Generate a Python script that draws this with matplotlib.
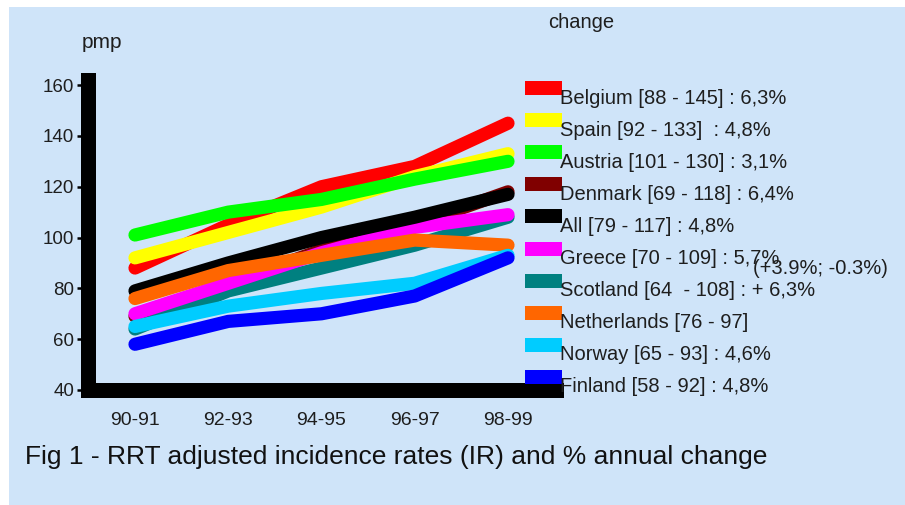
import matplotlib
matplotlib.use('Agg')
import matplotlib.pyplot as plt
from matplotlib.patches import Rectangle

plt.rcParams['font.family'] = ['Liberation Sans', 'DejaVu Sans']

# incidence rates, pmp
periods = ['90-91', '92-93', '94-95', '96-97', '98-99']
belgium = [88, 105, 120, 128, 145]
spain = [92, 102, 112, 124, 133]
austria = [101, 110, 115, 123, 130]
denmark = [69, 82, 95, 105, 118]
all_countries = [79, 90, 100, 108, 117]
greece = [70, 82, 94, 104, 109]
scotland = [64, 79, 88, 97, 108]
netherlands = [76, 87, 93, 99, 97]
norway = [65, 73, 78, 82, 93]
finland = [58, 67, 70, 77, 92]

legend_labels = ['Belgium [88 - 145] : 6,3%', 'Spain [92 - 133]  : 4,8%',
                 'Austria [101 - 130] : 3,1%', 'Denmark [69 - 118] : 6,4%',
                 'All [79 - 117] : 4,8%', 'Greece [70 - 109] : 5,7%',
                 'Scotland [64  - 108] : + 6,3%', 'Netherlands [76 - 97]',
                 'Norway [65 - 93] : 4,6%', 'Finland [58 - 92] : 4,8%']
colors = ['#ff0000', '#ffff00', '#00ff00', '#800000', '#000000',
          '#ff00ff', '#008080', '#ff6600', '#00ccff', '#0000ff']
series = [belgium, spain, austria, denmark, all_countries,
          greece, scotland, netherlands, norway, finland]
# drawing order (bottom to top)
layer = [2, 3, 4, 1, 7, 6, 5, 8, 9, 10]

W, H = 905, 505
BG = '#cfe4f9'
TXT = '#1e1e1e'


def fx(x):
    return x / W


def fy(y):
    return 1 - y / H


fig = plt.figure(figsize=(9.05, 5.05), dpi=100, facecolor='white')
fig.patches.append(Rectangle((fx(9), 0), 1 - fx(9), fy(7), transform=fig.transFigure,
                             facecolor=BG, edgecolor='none', zorder=-10))

ax = fig.add_axes([fx(88), fy(390), fx(556) - fx(88), fy(80) - fy(390)])
ax.set_facecolor('none')

x = list(range(len(periods)))
for vals, c, z in zip(series, colors, layer):
    ax.plot(x, vals, color=c, lw=9.5, solid_capstyle='round',
            solid_joinstyle='round', zorder=z)

ax.set_xlim((88 - 135) / 93.25, (556 - 135) / 93.25)
ax.set_ylim(40, 162)
ax.set_xticks(x)
ax.set_xticklabels(periods)
ax.set_yticks(range(40, 161, 20))

for side in ['top', 'right']:
    ax.spines[side].set_visible(False)
for side in ['left', 'bottom']:
    ax.spines[side].set_linewidth(10.8)
    ax.spines[side].set_capstyle('projecting')
    ax.spines[side].set_zorder(20)

ax.tick_params(axis='y', length=8, width=1.8, pad=2, labelsize=13.5, labelcolor=TXT)
ax.tick_params(axis='x', length=0, pad=16, labelsize=14, labelcolor=TXT)

# legend with range and annual change
for i, (lab, c) in enumerate(zip(legend_labels, colors)):
    yc = 88 + i * 32.1
    fig.patches.append(Rectangle((fx(525), fy(yc + 7)), fx(562) - fx(525), 14 / H,
                                 transform=fig.transFigure, facecolor=c,
                                 edgecolor='none', zorder=5))
    fig.text(fx(560), fy(yc + 10), lab, fontsize=14.5, va='center', ha='left',
             color=TXT, zorder=6)

fig.text(fx(753), fy(268), '(+3.9%; -0.3%)', fontsize=14.5, va='center', ha='left',
         color=TXT)
fig.text(fx(548), fy(23), 'change', fontsize=14.5, va='center', ha='left',
         color=TXT)
fig.text(fx(82), fy(43), 'pmp', fontsize=15, va='center', ha='left',
         color=TXT)
fig.text(fx(25), fy(457), 'Fig 1 - RRT adjusted incidence rates (IR) and % annual change',
         fontsize=19, va='center', ha='left', color='#111111')

fig.savefig('out.png', dpi=100, facecolor='white')
